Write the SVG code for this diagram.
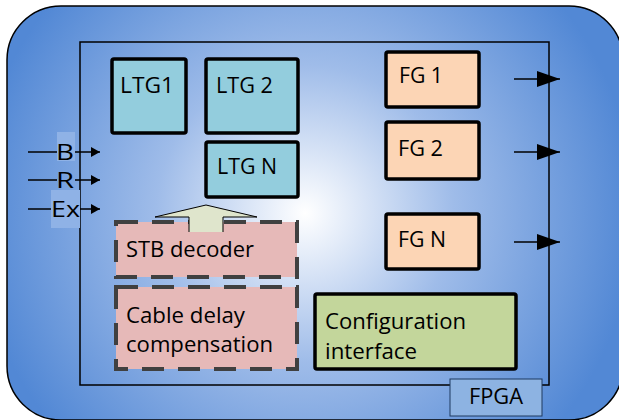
<svg xmlns="http://www.w3.org/2000/svg" width="619" height="420" viewBox="0 0 619 420">
<defs>
<radialGradient id="bg" gradientUnits="userSpaceOnUse" cx="305" cy="213" r="330">
<stop offset="0" stop-color="#ffffff"/>
<stop offset="0.45" stop-color="#9fbce9"/>
<stop offset="1" stop-color="#5288d5"/>
</radialGradient>
<marker id="sm" markerWidth="10" markerHeight="10" refX="9" refY="5" orient="auto" markerUnits="userSpaceOnUse">
<path d="M0,0 L9,5 L0,10 Z" fill="#000"/>
</marker>
<marker id="bm" markerWidth="24" markerHeight="18" refX="23" refY="9" orient="auto" markerUnits="userSpaceOnUse">
<path d="M0,1 L23,9 L0,17 Z" fill="#000"/>
</marker>
</defs>
<style>
text{font-family:"Open Sans","Noto Sans","Liberation Sans",sans-serif;font-size:22px;fill:#000}
.ltg{fill:#93cddd;stroke:#000;stroke-width:3.5}
.fg{fill:#fcd5b5;stroke:#000;stroke-width:3.5}
.dash{fill:#e6b9b8;stroke:#404040;stroke-width:4;stroke-dasharray:22 14}
.cfg{fill:#c3d69b;stroke:#000;stroke-width:3.5}
.ln{stroke:#000;stroke-width:1.5;fill:none}
.hl{fill:#8fb2e6}
</style>
<rect x="7" y="6" width="616" height="414" rx="54" ry="54" fill="url(#bg)" stroke="#000" stroke-width="1.5"/>
<rect x="80" y="42" width="469" height="343" fill="none" stroke="#000" stroke-width="1.5"/>

<g id="in-labels">
<rect class="hl" x="57" y="132" width="18" height="29"/>
<rect class="hl" x="51" y="190" width="29" height="38"/>
<text x="56" y="160" font-size="24" textLength="18" lengthAdjust="spacingAndGlyphs">B</text>
<text x="56" y="188" font-size="24" textLength="18" lengthAdjust="spacingAndGlyphs">R</text>
<text x="51" y="217" font-size="24" textLength="29" lengthAdjust="spacingAndGlyphs">Ex</text>
</g>

<g id="LTG1"><rect class="ltg" x="112" y="59" width="74" height="74" rx="2"/><text x="120" y="93" textLength="54" lengthAdjust="spacingAndGlyphs">LTG1</text></g>
<g id="LTG2"><rect class="ltg" x="206" y="59" width="92" height="74" rx="2"/><text x="216" y="93" textLength="57" lengthAdjust="spacingAndGlyphs">LTG 2</text></g>
<g id="LTGN"><rect class="ltg" x="206" y="142" width="92" height="55" rx="2"/><text x="217" y="174" textLength="60" lengthAdjust="spacingAndGlyphs">LTG N</text></g>
<g id="FG1"><rect class="fg" x="386" y="52" width="93" height="55" rx="2"/><text x="399" y="83" textLength="44" lengthAdjust="spacingAndGlyphs">FG 1</text></g>
<g id="FG2"><rect class="fg" x="386" y="122" width="93" height="57" rx="2"/><text x="398" y="156" textLength="45" lengthAdjust="spacingAndGlyphs">FG 2</text></g>
<g id="FGN"><rect class="fg" x="386" y="214" width="93" height="55" rx="2"/><text x="398" y="247" textLength="48" lengthAdjust="spacingAndGlyphs">FG N</text></g>

<g id="STB"><rect class="dash" x="116" y="222" width="181" height="55"/><text x="126" y="257" textLength="128" lengthAdjust="spacingAndGlyphs">STB decoder</text></g>
<g id="CDC"><rect class="dash" x="116" y="287" width="181" height="82"/><text x="126" y="323" textLength="119" lengthAdjust="spacingAndGlyphs">Cable delay</text><text x="126" y="352" textLength="147" lengthAdjust="spacingAndGlyphs">compensation</text></g>
<g id="CFG"><rect class="cfg" x="315" y="294" width="201" height="75" rx="2"/><text x="325" y="329" textLength="141" lengthAdjust="spacingAndGlyphs">Configuration</text><text x="325" y="359" textLength="92" lengthAdjust="spacingAndGlyphs">interface</text></g>
<g id="FPGA"><rect x="450" y="379" width="92" height="37" fill="#8db3e2" stroke="#1f3a60" stroke-width="1"/><text x="469" y="404" textLength="54" lengthAdjust="spacingAndGlyphs">FPGA</text></g>

<g id="connectors">
<line class="ln" x1="28" y1="152" x2="57" y2="152"/>
<line class="ln" x1="75" y1="152" x2="100" y2="152" marker-end="url(#sm)"/>
<line class="ln" x1="28" y1="180" x2="57" y2="180"/>
<line class="ln" x1="75" y1="180" x2="100" y2="180" marker-end="url(#sm)"/>
<line class="ln" x1="28" y1="209" x2="51" y2="209"/>
<line class="ln" x1="80" y1="209" x2="100" y2="209" marker-end="url(#sm)"/>
<line class="ln" x1="514" y1="79" x2="560" y2="79" marker-end="url(#bm)"/>
<line class="ln" x1="514" y1="152" x2="560" y2="152" marker-end="url(#bm)"/>
<line class="ln" x1="514" y1="242" x2="560" y2="242" marker-end="url(#bm)"/>
<path d="M189,232 V217 H155 L206,205 L257,217 H223 V232" fill="#dfe5cc" stroke="#000" stroke-width="1"/>
</g>
</svg>
